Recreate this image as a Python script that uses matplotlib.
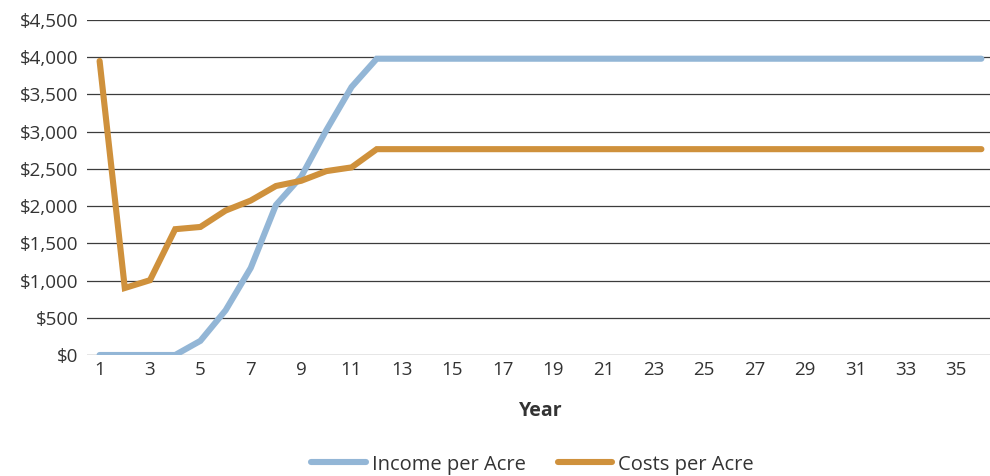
import numpy as np
import matplotlib.pyplot as plt
from matplotlib.ticker import FuncFormatter

plt.rcParams['font.family'] = ['Open Sans', 'DejaVu Sans']

years = np.arange(1, 37)
income = [0, 0, 0, 0, 190, 600, 1170, 2015, 2395, 3020, 3600] + [3980] * 25
costs = [3950, 900, 1005, 1690, 1720, 1940, 2075, 2270, 2340, 2470, 2520] + [2765] * 25

blue = '#93b6d6'
orange = '#cf913c'

fig = plt.figure(figsize=(9.9, 4.76), dpi=100)
ax = fig.add_axes([87 / 990, 1 - 355 / 476, 907 / 990, (355 - 20) / 476])

ax.plot(years, income, color=blue, lw=4.4, solid_capstyle='round',
        solid_joinstyle='miter', label='Income per Acre', zorder=3)
ax.plot(years, costs, color=orange, lw=4.4, solid_capstyle='round',
        solid_joinstyle='miter', label='Costs per Acre', zorder=3)

ax.set_xlim(0.5, 36.5)
ax.set_ylim(0, 4500)
ax.set_yticks(np.arange(0, 4501, 500))
ax.set_xticks(np.arange(1, 36, 2))
ax.yaxis.set_major_formatter(FuncFormatter(lambda v, p: '${:,.0f}'.format(v)))
ax.grid(axis='y', color='#3c3c3c', lw=0.9)
ax.set_axisbelow(True)
for s in ax.spines.values():
    s.set_visible(False)
ax.tick_params(length=0, labelsize=13.5, colors='#333333')
ax.tick_params(axis='y', pad=6)
ax.tick_params(axis='x', pad=4)

ax.set_xlabel('Year', fontsize=14, fontweight='bold', color='#333333', labelpad=16)

fig.legend(loc='lower center', bbox_to_anchor=(0.538, -0.035), ncol=2, frameon=False,
           fontsize=14.5, handlelength=2.7, columnspacing=1.6, handletextpad=0.3,
           labelcolor='#333333')

fig.savefig('out.png', dpi=100)
